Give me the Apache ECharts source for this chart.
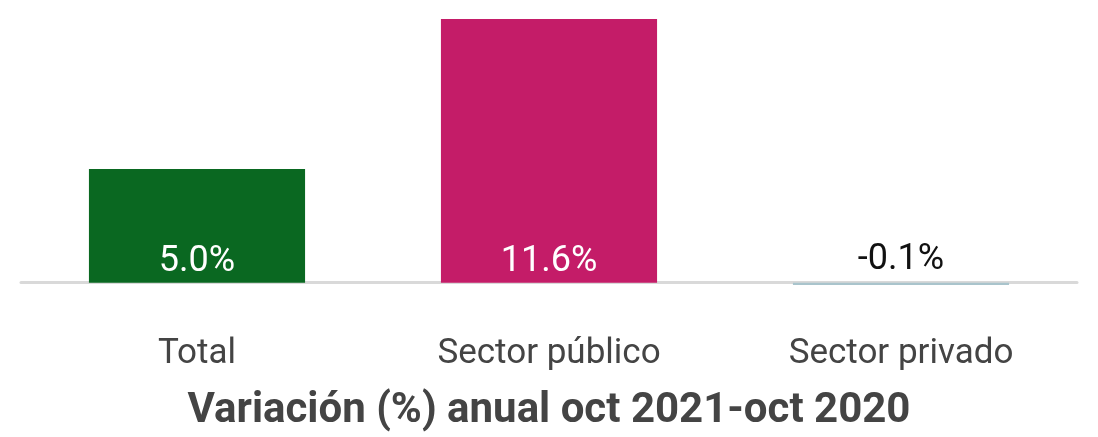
<!DOCTYPE html>
<html>
<head>
<meta charset="utf-8">
<script src="https://cdn.jsdelivr.net/npm/echarts@6/dist/echarts.min.js"></script>
<style>
  html, body { margin: 0; padding: 0; background: #fff; }
  #chart { width: 1098px; height: 437px; }
</style>
</head>
<body>
<div id="chart"></div>
<script>
var categories = ['Total', 'Sector público', 'Sector privado'];
var values = [5.0, 11.6, -0.1];
var barColors = ['#0a6821', '#c41c68', '#a9c4cc'];
var labelColors = ['#ffffff', '#ffffff', '#111111'];

var chart = echarts.init(document.getElementById('chart'));

var option = {
  animation: false,
  title: {
    text: 'Variación (%) anual oct 2021-oct 2020',
    left: 'center',
    bottom: 0,
    textStyle: {
      fontFamily: 'Roboto',
      fontSize: 42,
      fontWeight: 'bold',
      color: '#444444'
    }
  },
  grid: {
    left: 21,
    right: 21,
    top: 19,
    bottom: 152
  },
  xAxis: {
    type: 'category',
    data: categories,
    axisLine: { show: true, lineStyle: { color: '#d9d9d9', width: 3 } },
    axisTick: { show: false },
    axisLabel: {
      margin: 52,
      fontFamily: 'Roboto',
      fontSize: 35,
      color: '#444444'
    }
  },
  yAxis: {
    type: 'value',
    min: -0.1,
    max: 11.6,
    show: false,
    splitLine: { show: false }
  },
  series: [{
    type: 'bar',
    barWidth: '61.4%',
    data: values.map(function (v, i) {
      return {
        value: v,
        itemStyle: { color: barColors[i] },
        label: {
          color: labelColors[i],
          position: v < 0 ? 'top' : 'insideBottom',
          distance: v < 0 ? 5 : 3
        }
      };
    }),
    label: {
      show: true,
      fontFamily: 'Roboto',
      fontSize: 36,
      formatter: function (p) { return p.value.toFixed(1) + '%'; }
    }
  }]
};

chart.setOption(option);
window.onresize = chart.resize;
</script>
</body>
</html>
